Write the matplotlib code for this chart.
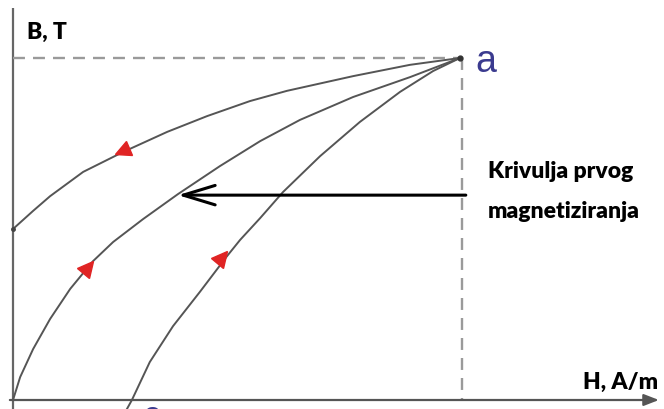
import matplotlib
matplotlib.use("Agg")
from matplotlib import pyplot as plt
from matplotlib.markers import MarkerStyle
from matplotlib.transforms import Affine2D

# hysteresis branches, H and B relative to the tip point "a" (H=1, B=1)
down_H = [0.000, 0.045, 0.083, 0.157, 0.246, 0.345, 0.434, 0.530, 0.613, 0.761, 0.888, 1.000]
down_B = [0.500, 0.553, 0.596, 0.667, 0.725, 0.784, 0.830, 0.874, 0.904, 0.947, 0.980, 1.000]

first_H = [0.000, 0.016, 0.045, 0.083, 0.128, 0.179, 0.224, 0.291, 0.369, 0.463, 0.553, 0.642, 0.761, 0.888, 1.000]
first_B = [0.000, 0.067, 0.149, 0.237, 0.325, 0.406, 0.462, 0.529, 0.602, 0.684, 0.757, 0.819, 0.886, 0.944, 1.000]

up_H = [0.255, 0.266, 0.284, 0.306, 0.358, 0.418, 0.479, 0.508, 0.553, 0.604, 0.687, 0.776, 0.866, 0.940, 1.000]
up_B = [-0.026, 0.000, 0.050, 0.111, 0.216, 0.316, 0.421, 0.468, 0.532, 0.608, 0.713, 0.813, 0.901, 0.962, 1.000]

# direction arrows on the curves: (H, B, angle in degrees)
arrows = [(0.244, 0.728, 206), (0.168, 0.389, 51), (0.468, 0.418, 52)]

plt.rcParams['lines.scale_dashes'] = False
fig = plt.figure(figsize=(6.64, 4.10), dpi=100)
ax = fig.add_axes([0, 0, 1, 1])
ax.set_xlim(-0.0291, 1.4564)
ax.set_ylim(-0.0263, 1.1725)
ax.axis('off')

# axes
ax.plot([0, 0], [-0.03, 1.146], color='#666666', lw=1.6, solid_capstyle='butt')
ax.annotate('', xy=(1.445, 0), xytext=(-0.007, 0),
            arrowprops=dict(arrowstyle='-|>,head_length=0.9,head_width=0.35',
                            color='#555555', lw=1.6, mutation_scale=10,
                            shrinkA=0, shrinkB=0))

# dashed guides to point a
ax.plot([0, 1], [1, 1], color='#9a9a9a', lw=1.7, dashes=(8.6, 5.8))
ax.plot([1.004, 1.004], [1, 0], color='#9a9a9a', lw=1.7, dashes=(8.6, 5.8))

for h, b in [(down_H, down_B), (first_H, first_B), (up_H, up_B)]:
    ax.plot(h, b, color='#555555', lw=1.4)

ax.plot([1], [1], 'o', color='#333333', ms=3.5)
ax.plot([0], [0.5], 'o', color='#444444', ms=2.5)

for h, b, ang in arrows:
    m = MarkerStyle('^', transform=Affine2D().rotate_deg(ang - 90))
    ax.plot([h], [b], marker=m, color='#e02424', ms=11, ls='none')

# annotation arrow
ax.annotate('', xy=(0.369, 0.599), xytext=(1.013, 0.599),
            arrowprops=dict(arrowstyle='->,head_length=2.3,head_width=0.7',
                            color='black', lw=2.2, mutation_scale=10,
                            shrinkA=0, shrinkB=0))

font = ['Lato', 'DejaVu Sans']
ax.text(1.063, 0.670, 'Krivulja prvog', family=font, weight='heavy', fontsize=16.5,
        va='center', ha='left')
ax.text(1.063, 0.553, 'magnetiziranja', family=font, weight='heavy', fontsize=16.5,
        va='center', ha='left')
ax.text(0.031, 1.079, 'B, T', family=font, weight='heavy', fontsize=16.5,
        va='center', ha='left')
ax.text(1.443, 0.053, 'H, A/m', family=font, weight='heavy', fontsize=16.5,
        va='center', ha='right')
ax.text(1.034, 0.991, 'a', family=['Liberation Sans', 'DejaVu Sans'], fontsize=27,
        color='#3b3b8f', va='center', ha='left')
# only the top of the "c" label shows at the bottom edge
ax.text(0.290, -0.075, 'c', family=['Liberation Sans', 'DejaVu Sans'], fontsize=26,
        color='#3b3b8f', va='baseline', ha='left')

fig.savefig('out.png', dpi=100)
